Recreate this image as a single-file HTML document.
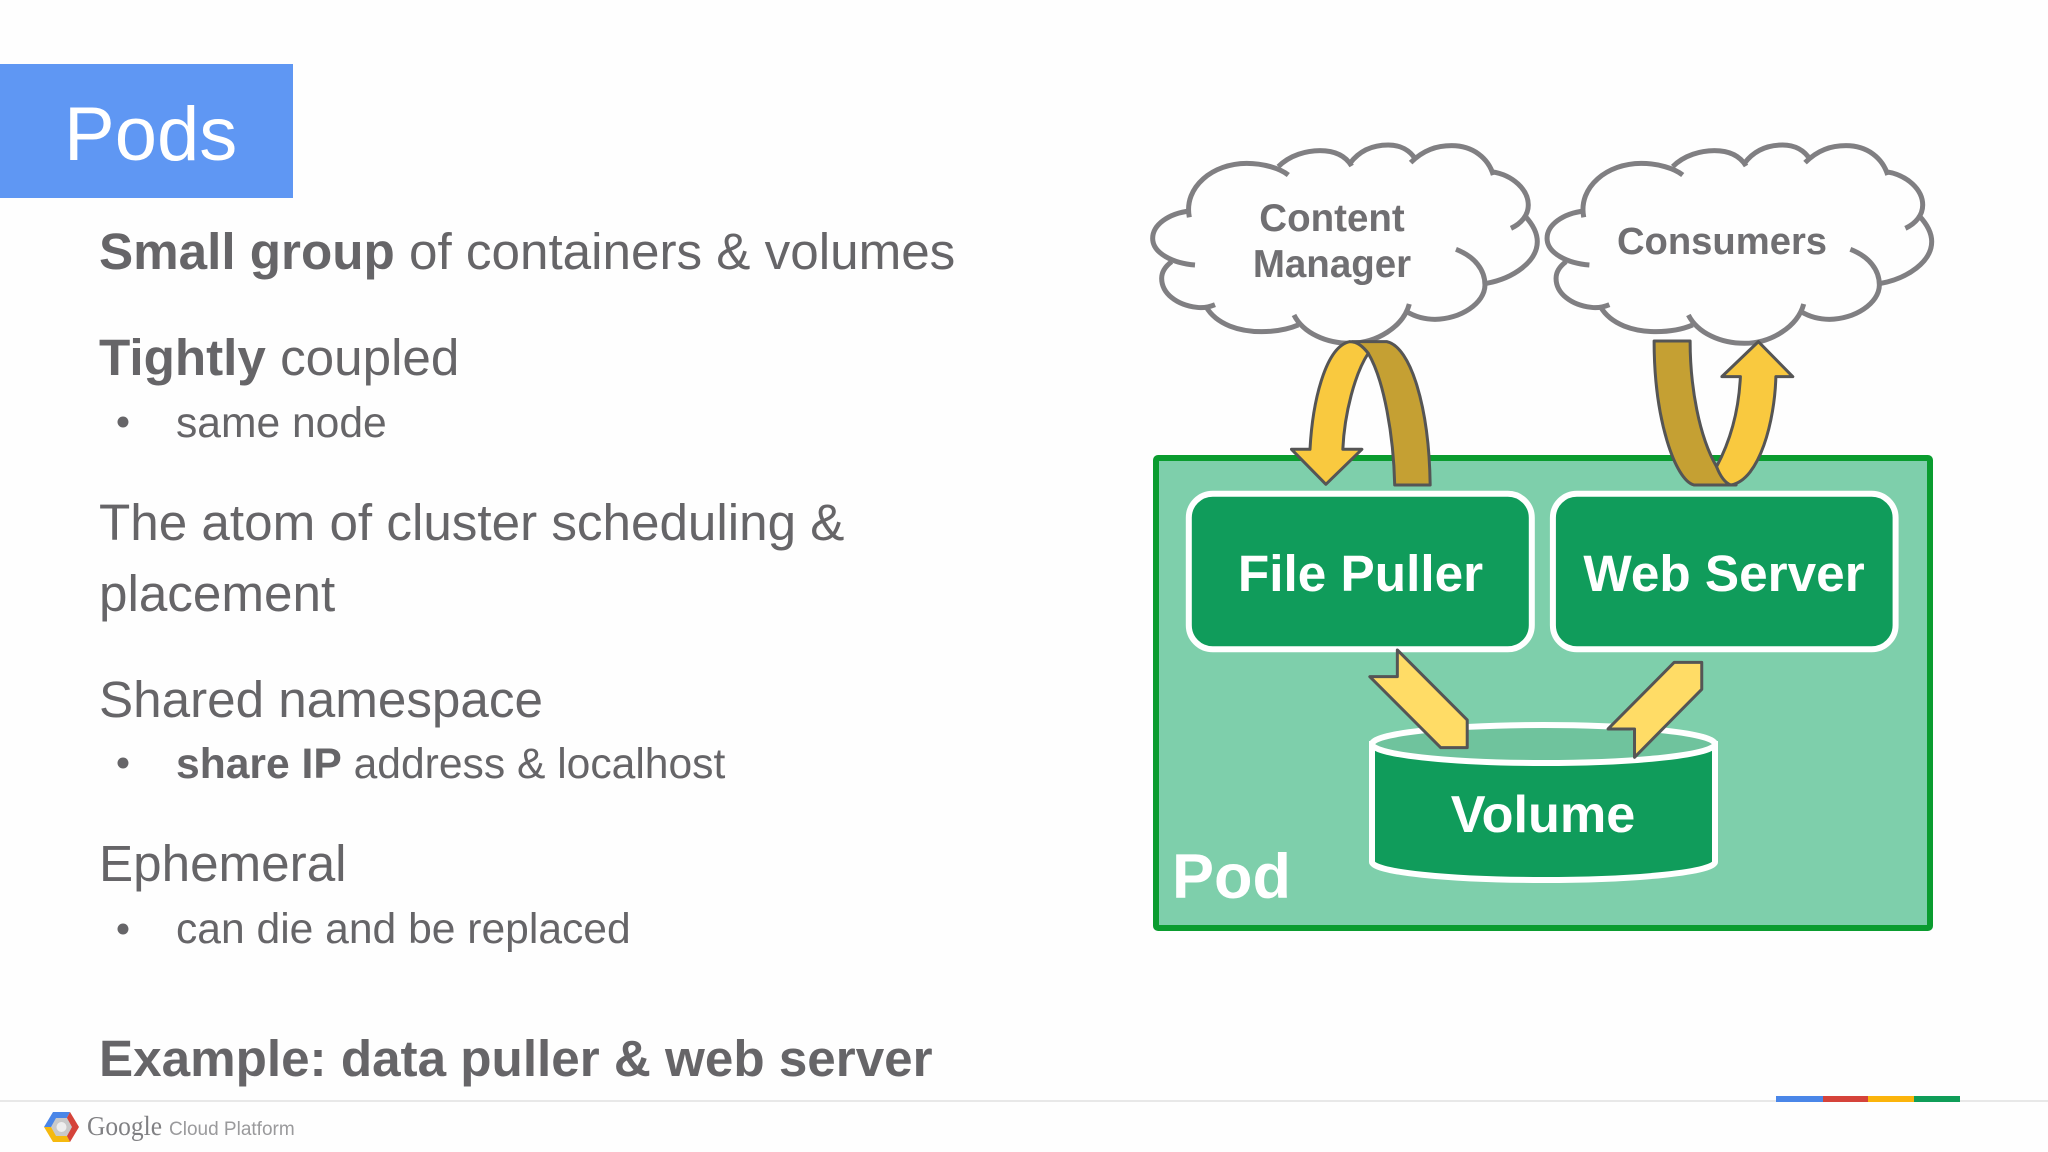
<!DOCTYPE html>
<html><head><meta charset="utf-8"><title>Pods</title>
<style>
html,body{margin:0;padding:0;background:#fefefe;width:2048px;height:1152px;overflow:hidden}
svg{display:block}
text{font-family:"Liberation Sans",sans-serif}
.t{fill:#666568;font-size:51.200px}
.s{fill:#666568;font-size:42.600px}
.b{font-weight:bold}
.w{fill:#fff;font-weight:bold;font-size:51.300px;text-anchor:middle}
.c{fill:#706f72;font-weight:bold;font-size:38.500px;text-anchor:middle}
#cloud path{fill:none;stroke:#807f82;stroke-width:15;stroke-linecap:butt}
.ar path{stroke:#555;stroke-width:3;stroke-linejoin:round;vector-effect:non-scaling-stroke}
</style></head><body>
<svg width="2048" height="1152" viewBox="0 0 2048 1152" xmlns="http://www.w3.org/2000/svg">
<rect width="2048" height="1152" fill="#fefefe"/>
<rect x="0" y="64" width="293" height="134" fill="#5f97f3"/>
<text x="64" y="160" font-size="76" fill="#fff">Pods</text>

<text class="t" x="99" y="269"><tspan class="b">Small group</tspan> of containers &amp; volumes</text>
<text class="t" x="99" y="375"><tspan class="b">Tightly</tspan> coupled</text>
<circle cx="123" cy="422" r="5.500" fill="#666568"/>
<text class="s" x="176" y="437">same node</text>
<text class="t" x="99" y="540">The atom of cluster scheduling &amp;</text>
<text class="t" x="99" y="611">placement</text>
<text class="t" x="99" y="717">Shared namespace</text>
<circle cx="123" cy="763" r="5.500" fill="#666568"/>
<text class="s" x="176" y="778"><tspan class="b">share IP</tspan> address &amp; localhost</text>
<text class="t" x="99" y="881">Ephemeral</text>
<circle cx="123" cy="929" r="5.500" fill="#666568"/>
<text class="s" x="176" y="943">can die and be replaced</text>
<text class="t b" x="99" y="1076">Example: data puller &amp; web server</text>

<!-- footer -->
<rect x="0" y="1100" width="2048" height="2" fill="#e8e8e8"/>
<rect x="1776" y="1096" width="47" height="6" fill="#4a86e8"/>
<rect x="1823" y="1096" width="45" height="6" fill="#d5433a"/>
<rect x="1868" y="1096" width="46" height="6" fill="#fbb40b"/>
<rect x="1914" y="1096" width="46" height="6" fill="#0f9d58"/>
<polygon points="44,1127 53,1112 70,1112 62,1127" fill="#4a86e8"/>
<polygon points="70,1112 79,1127 70,1142 62,1127" fill="#d5433a"/>
<polygon points="44,1127 62,1127 70,1142 53,1142" fill="#f5b90f"/>
<polygon points="51,1127 56,1118 67,1118 72,1127 67,1136 56,1136" fill="#c9c9c9"/>
<circle cx="61.500" cy="1127" r="5" fill="#eee"/>
<text x="87" y="1135" font-size="27" fill="#808083" style="font-family:'Liberation Serif',serif" textLength="75" lengthAdjust="spacingAndGlyphs">Google</text>
<text x="169" y="1135" font-size="19" fill="#9a9a9c">Cloud Platform</text>

<!-- pod -->
<rect x="1156" y="458" width="774" height="470" rx="2" fill="#7ecfab" stroke="#0a9c2f" stroke-width="6"/>
<rect x="1188.800" y="493.700" width="343" height="155.600" rx="24" fill="#109c5b" stroke="#fff" stroke-width="6"/>
<rect x="1552.900" y="493.700" width="342.700" height="155.600" rx="24" fill="#109c5b" stroke="#fff" stroke-width="6"/>
<text class="w" x="1360.500" y="591">File Puller</text>
<text class="w" x="1724" y="591">Web Server</text>

<!-- volume -->
<path d="M1372 744V862A171.500 18 0 0 0 1715 862V744Z" fill="#109c5b" stroke="#fff" stroke-width="6"/>
<ellipse cx="1543.500" cy="744" rx="171.500" ry="19" fill="#6fc39d" stroke="#fff" stroke-width="6"/>
<text class="w" x="1543" y="832" style="font-size:52.200px">Volume</text>
<text x="1172" y="898" font-size="63" font-weight="bold" fill="#fff">Pod</text>

<!-- yellow small arrows -->
<g class="ar" transform="translate(1130,480) scale(0.5294,0.3333)">
<path d="M505 510L637 720L637 803L587 803L453 590L505 590Z" fill="#ffdc66"/>
<path d="M1028 547L1080 547L1080 628L953 832L953 747L903 747Z" fill="#ffdc66"/>
</g>

<!-- clouds -->
<defs>
<g id="cloud">
<path d="M148 262C130 170 220 100 320 100C370 100 420 115 445 135"/>
<path d="M415 110C450 75 500 62 540 62C580 62 615 75 635 108"/>
<path d="M630 100C660 60 700 45 745 45C780 45 810 60 828 90"/>
<path d="M812 98C850 60 890 47 935 47C1000 47 1045 85 1060 135"/>
<path d="M1055 125C1120 135 1165 180 1165 225C1165 255 1145 280 1113 295"/>
<path d="M1155 258C1180 285 1192 310 1192 335C1192 395 1120 445 1040 460"/>
<path d="M948 358C1005 380 1035 420 1035 465C1035 520 960 568 885 568C855 568 825 560 800 545"/>
<path d="M808 522C790 590 710 640 630 640C560 640 490 610 462 555"/>
<path d="M475 585C440 600 400 605 365 605C300 605 230 585 198 530"/>
<path d="M225 524C210 530 190 535 170 532C110 525 65 490 65 445C65 425 75 410 95 395"/>
<path d="M165 405C100 400 38 370 38 325C38 285 85 250 150 243"/>
</g>
</defs>
<use href="#cloud" transform="translate(1140,130) scale(0.3333)"/>
<use href="#cloud" transform="translate(1534.400,130) scale(0.3333)"/>
<text class="c" x="1332" y="231">Content</text>
<text class="c" x="1332" y="277">Manager</text>
<text class="c" x="1722" y="254" style="font-size:38.200px">Consumers</text>

<!-- curved arrows -->
<g class="ar" transform="translate(1130,120) scale(0.5294,0.3333)">
<path d="M420 665L485 665C530 680 565 860 567 1095L500 1095C498 950 480 780 450 700C440 680 430 668 420 665Z" fill="#c5a033"/>
<path d="M415 665C370 680 345 840 340 988L305 988L370 1093L438 988L402 988C405 880 425 760 450 700C440 680 430 665 415 665Z" fill="#f9c93f"/>
<path d="M990 663L1058 663C1058 800 1075 950 1108 1040C1118 1070 1130 1090 1145 1095L1065 1095C1030 1080 990 900 990 663Z" fill="#c5a033"/>
<path d="M1187 665L1252 770L1220 770C1218 900 1190 1080 1135 1095C1125 1090 1115 1070 1108 1040C1135 960 1150 870 1153 770L1118 770Z" fill="#f9c93f"/>
</g>
</svg>
</body></html>
